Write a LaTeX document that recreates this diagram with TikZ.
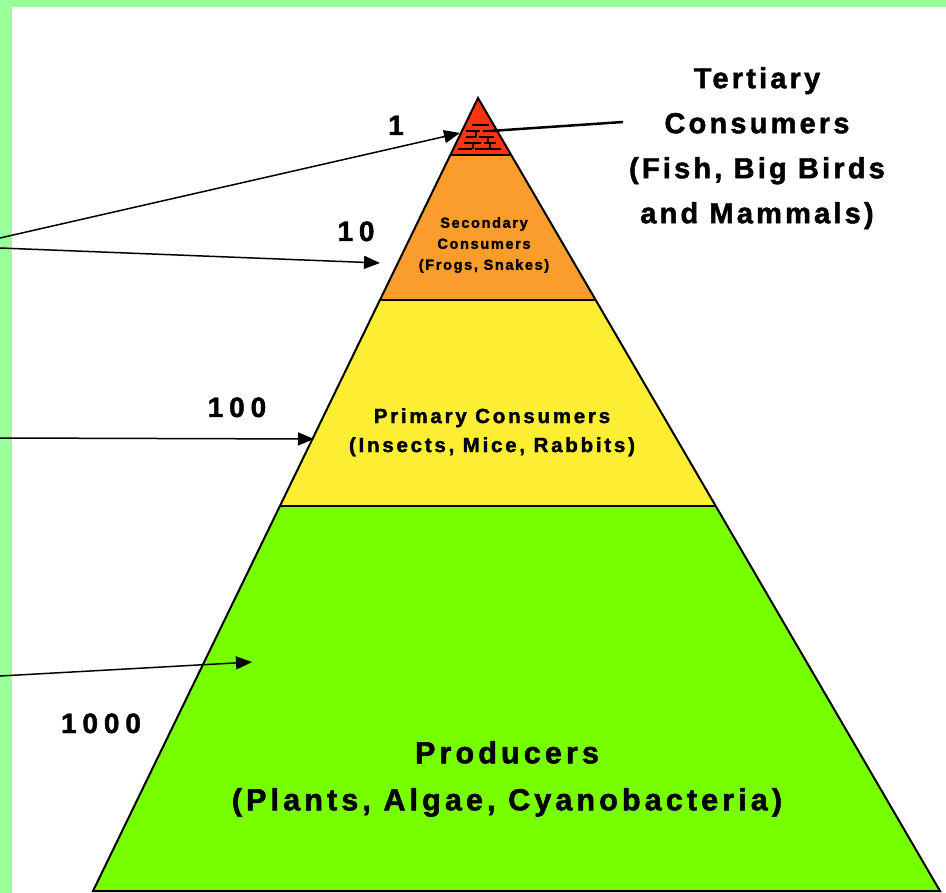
\documentclass[tikz,border=0pt]{standalone}
\usepackage{fontspec}
\setmainfont{Liberation Sans}
\newfontfamily\lab{Liberation Sans}[LetterSpace=11,FakeBold=1.6]
\newfontfamily\labw{Liberation Sans}[LetterSpace=13.5,FakeBold=1.7]
\newfontfamily\numf{Liberation Sans}[LetterSpace=21,FakeBold=1.6]
\usetikzlibrary{arrows.meta}
\definecolor{framegreen}{HTML}{99FF99}
\definecolor{pred}{HTML}{FF3311}
\definecolor{porange}{HTML}{FA9D2C}
\definecolor{pyellow}{HTML}{FCEE33}
\definecolor{pgreen}{HTML}{77FF00}
\begin{document}
\begin{tikzpicture}[x=1pt,y=-1pt,
  outline/.style={line width=2pt, line join=miter},
  arr/.style={line width=1.5pt, -{Triangle[length=16pt,width=13pt]}},
  brick/.style={line width=1.5pt, black},
  numlbl/.style={inner sep=0pt, anchor=base, font=\numf\bfseries\fontsize{28}{34}\selectfont},
  biglbl/.style={inner sep=0pt, align=center, font=\lab\bfseries\fontsize{29}{45}\selectfont},
  prodlbl/.style={inner sep=0pt, align=center, font=\labw\bfseries\fontsize{30.5}{47}\selectfont},
  midlbl/.style={inner sep=0pt, align=center, font=\labw\bfseries\fontsize{20.5}{29}\selectfont},
  smalllbl/.style={inner sep=0pt, align=center, font=\lab\bfseries\fontsize{14.6}{21}\selectfont}]
\useasboundingbox (0,0) rectangle (946,893);
\fill[framegreen] (0,0) rectangle (946,893);
\fill[white] (12,7) rectangle (946,893);
% pyramid corners
\coordinate (A) at (478,98);
\coordinate (L1) at (450.3,155); \coordinate (R1) at (511.2,155);
\coordinate (L2) at (379.9,300); \coordinate (R2) at (595.7,300);
\coordinate (L3) at (279.9,506); \coordinate (R3) at (715.7,506);
\coordinate (BL) at (93,891);    \coordinate (BR) at (940,891);
% layers
\fill[pred] (A) -- (R1) -- (L1) -- cycle;
\fill[porange] (L1) -- (R1) -- (R2) -- (L2) -- cycle;
\fill[pyellow] (L2) -- (R2) -- (R3) -- (L3) -- cycle;
\fill[pgreen] (L3) -- (R3) -- (BR) -- (BL) -- cycle;
% bricks in the top layer
\draw[brick] (472,125) -- (489,125);
\draw[brick] (466,131) -- (480,131) (483,131) -- (497,131);
\draw[brick] (466,137) -- (476,137) (479,137) -- (494,137);
\draw[brick] (464,143) -- (481,143) (484,143) -- (496,143);
\draw[brick] (458,149) -- (472,149) (475,149) -- (501,149);
\draw[brick, line width=1.2pt] (476,131) -- (476,137) (488,137) -- (488,143) (473,143) -- (473,149) (490,143) -- (490,149);
% outlines
\draw[outline] (A) -- (BR) -- (BL) -- cycle;
\draw[outline] (L1) -- (R1) (L2) -- (R2) (L3) -- (R3);
% labels
\node[numlbl] (n1) at (396,135) {1};
\node[numlbl] (n10) at (356,241) {10};
\node[numlbl] (n100) at (237,417) {100};
\node[numlbl] (n1000) at (101,733) {1000};
\node[biglbl, anchor=north] (tert) at (757,67) {Tertiary\\Consumers\\(Fish, Big Birds\\and Mammals)};
\node[smalllbl, anchor=north] (sec) at (484,217) {Secondary\\Consumers\\(Frogs, Snakes)};
\node[midlbl, anchor=north] (prim) at (492,408) {Primary Consumers\\(Insects, Mice, Rabbits)};
\node[prodlbl, anchor=north] (prod) at (507,741) {Producers\\(Plants, Algae, Cyanobacteria)};
% connectors
\coordinate (s1) at (0,238);  \coordinate (t1) at (460,133);
\coordinate (s2) at (0,248);  \coordinate (t2) at (380,263);
\coordinate (s3) at (0,438);  \coordinate (t3) at (314,439);
\coordinate (s4) at (0,676);  \coordinate (t4) at (252,662);
\coordinate (ts) at (623,122); \coordinate (te) at (490,131);
\draw[arr] (s1) -- (t1);
\draw[arr] (s2) -- (t2);
\draw[arr] (s3) -- (t3);
\draw[arr] (s4) -- (t4);
\draw[line width=2.5pt] (ts) -- (te);
\end{tikzpicture}
\end{document}
